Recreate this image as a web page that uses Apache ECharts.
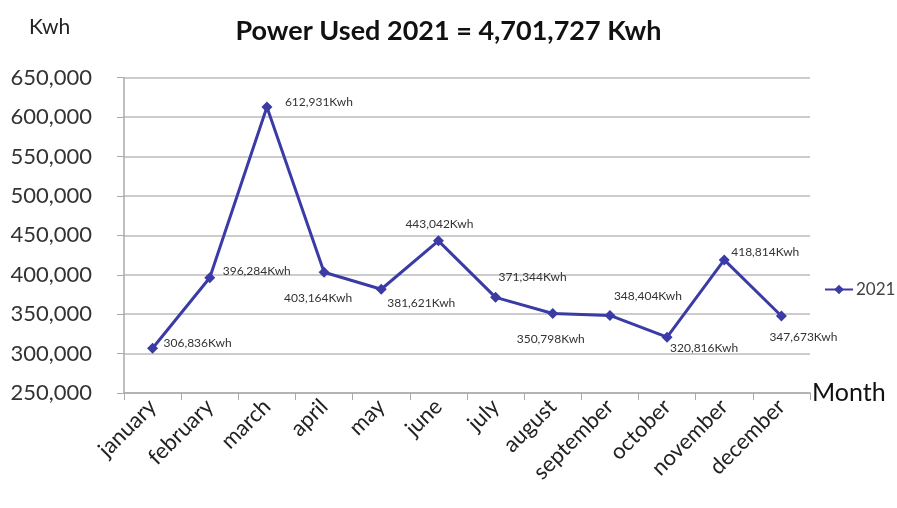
<!DOCTYPE html>
<html><head><meta charset="utf-8">
<script src="https://cdn.jsdelivr.net/npm/echarts@6/dist/echarts.min.js"></script>
<style>html,body{margin:0;padding:0;background:#fff}#c{width:897px;height:508px}</style>
</head><body><div id="c"></div>
<script>
const months = ['january','february','march','april','may','june','july','august','september','october','november','december'];
const power2021 = [306836,396284,612931,403164,381621,443042,371344,350798,348404,320816,418814,347673];
const yTicks = [250000,300000,350000,400000,450000,500000,550000,600000,650000];
const labelOffsets = [[45,-5],[47,-7],[52,-5],[-6,26],[40,14],[1,-17],[37,-20],[-2,26],[38,-19],[37,11],[41,-8],[22,21]];
const fmt = v => v.toLocaleString('en-US');
const FONT = 'Lato, "Open Sans", sans-serif';
const chart = echarts.init(document.getElementById('c'), null, {renderer:'canvas'});
chart.setOption({
  animation:false,
  title:[
    {text:'Power Used 2021 = 4,701,727 Kwh', left:'center', top:13, textStyle:{fontFamily:FONT, fontWeight:'bold', fontSize:27, color:'#111'}},
    {text:'Kwh', left:24, top:12, textStyle:{fontFamily:FONT, fontWeight:'normal', fontSize:21, color:'#222'}}
  ],
  legend:{left:824, top:281, orient:'vertical', padding:0, itemWidth:28, itemHeight:12, itemGap:4, textStyle:{fontFamily:FONT, fontSize:17, color:'#444', padding:[0,0,0,-2]}, data:['2021']},
  grid:{left:124, right:87, top:77.7, bottom:115},
  xAxis:{type:'category', data:months, boundaryGap:true,
    name:'Month', nameLocation:'end', nameGap:2, nameTextStyle:{fontFamily:FONT, fontSize:25, color:'#111', verticalAlign:'middle', align:'left'},
    axisLine:{lineStyle:{color:'#aaa', width:1.5}}, axisTick:{show:true, length:7, lineStyle:{color:'#aaa'}},
    axisLabel:{rotate:45, fontFamily:FONT, fontSize:22, color:'#222', margin:10, interval:0}},
  yAxis:{type:'value', min:yTicks[0], max:yTicks[yTicks.length-1], interval:50000,
    axisLine:{show:true, lineStyle:{color:'#aaa', width:1.5}}, axisTick:{show:true, length:7, lineStyle:{color:'#aaa'}},
    splitLine:{lineStyle:{color:'#bbb', width:1.5}},
    axisLabel:{formatter:v=>fmt(v), fontFamily:FONT, fontSize:22, color:'#333', margin:32}},
  series:[{name:'2021', type:'line', data:power2021.map((v,i)=>({value:v, label:{show:true, position:'inside', offset:labelOffsets[i]}})),
    symbol:'diamond', symbolSize:11, lineStyle:{color:'#3b3ba6', width:3}, itemStyle:{color:'#3b3ba6'},
    label:{formatter:p=>fmt(p.value)+'Kwh', fontFamily:FONT, fontSize:12, color:'#333'}}]
});
</script></body></html>
